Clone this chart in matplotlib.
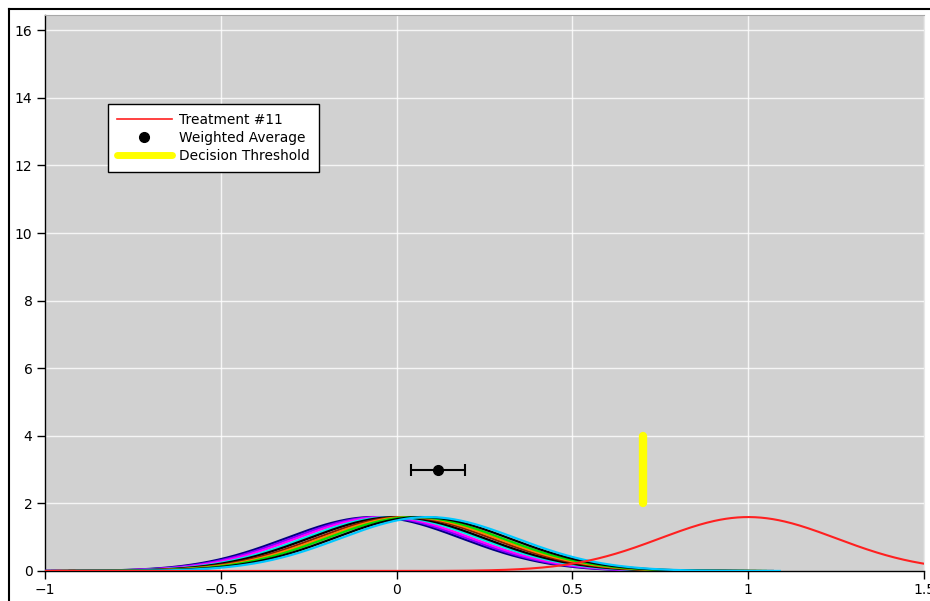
import numpy as np
import matplotlib
matplotlib.use("Agg")
import matplotlib.pyplot as plt
from matplotlib.lines import Line2D
from matplotlib.ticker import FuncFormatter

# ---- data ----
treatment_means = [-0.065, -0.05, -0.035, -0.015, 0.0, 0.02, 0.035, 0.05, 0.07, 0.09]
treatment_colors = ["#000080", "#7f00ff", "#ff00ff", "#00e5e5", "#000000",
                    "#8b1a00", "#ff8000", "#00e000", "#000000", "#00c8ff"]
treatment_sigma = 0.25
highlight_mean = 1.0
highlight_sigma = 0.25
highlight_label = "Treatment #11"
wavg_x = 0.118
wavg_y = 3.0
wavg_err = 0.076
threshold_x = 0.7
threshold_y = [2.0, 4.0]
xticks = [-1, -0.5, 0, 0.5, 1, 1.5]
yticks = [0, 2, 4, 6, 8, 10, 12, 14, 16]
xlim = (-1, 1.5)
ylim = (0, 16.45)

W, H = 930, 601
fig = plt.figure(figsize=(W / 100, H / 100), dpi=100)
fig.patch.set_facecolor("white")

# outer frame (cropped figure border)
fig.add_artist(Line2D([9 / W, 9 / W], [0, 1 - 9 / H], transform=fig.transFigure,
                      color="black", lw=1.5))
fig.add_artist(Line2D([9 / W, 1], [1 - 9 / H, 1 - 9 / H], transform=fig.transFigure,
                      color="black", lw=1.5))

left, right, top, bottom = 45 / W, 924 / W, 1 - 15 / H, 1 - 571 / H
ax = fig.add_axes([left, bottom, right - left, top - bottom])
ax.set_facecolor("#d1d1d1")


def gauss(x, m, s):
    return np.exp(-0.5 * ((x - m) / s) ** 2) / (s * np.sqrt(2 * np.pi))


for m, c in zip(treatment_means, treatment_colors):
    xs = np.linspace(m - 1.0, m + 1.0, 400)
    ax.plot(xs, gauss(xs, m, treatment_sigma), color=c, lw=1.6, zorder=3)

xs = np.linspace(xlim[0], xlim[1], 600)
ax.plot(xs, gauss(xs, highlight_mean, highlight_sigma), color="#ff2020", lw=1.5,
        zorder=4)

ax.errorbar([wavg_x], [wavg_y], xerr=[wavg_err], fmt="o", color="black", ms=7,
            elinewidth=1.5, capsize=4, capthick=1.5, zorder=5)

ax.plot([threshold_x, threshold_x], threshold_y, color="#ffff00", lw=6,
        solid_capstyle="round", zorder=5)

ax.set_xlim(*xlim)
ax.set_ylim(*ylim)
ax.set_xticks(xticks)
ax.set_yticks(yticks)
fmt = FuncFormatter(lambda v, p: ("%g" % v).replace("-", "\u2212"))
ax.xaxis.set_major_formatter(fmt)
ax.yaxis.set_major_formatter(fmt)
ax.tick_params(axis="both", direction="out", length=6, width=1, labelsize=10,
               pad=3, colors="black")
ax.grid(True, color="white", lw=1, alpha=0.8)
ax.set_axisbelow(True)
for s in ["left", "bottom"]:
    ax.spines[s].set_color("black")
    ax.spines[s].set_linewidth(1)
ax.spines["top"].set_color("#a8a8a8")
ax.spines["right"].set_color("#e8e8e8")

handles = [
    Line2D([], [], color="#ff2020", lw=1.2),
    Line2D([], [], color="black", marker="o", ms=7, ls="none"),
    Line2D([], [], color="#ffff00", lw=5, solid_capstyle="round"),
]
labels = [highlight_label, "Weighted Average", "Decision Threshold"]
leg = ax.legend(handles, labels, loc="upper left",
                bbox_to_anchor=((108 - 45) / 879, (571 - 104) / 556),
                fontsize=9.9, frameon=True, fancybox=False, edgecolor="black",
                framealpha=1, handlelength=4.0, handletextpad=0.5,
                labelspacing=0.3, borderpad=0.65, borderaxespad=0)
leg.get_frame().set_linewidth(1)

fig.savefig("out.png", dpi=100, facecolor="white")
